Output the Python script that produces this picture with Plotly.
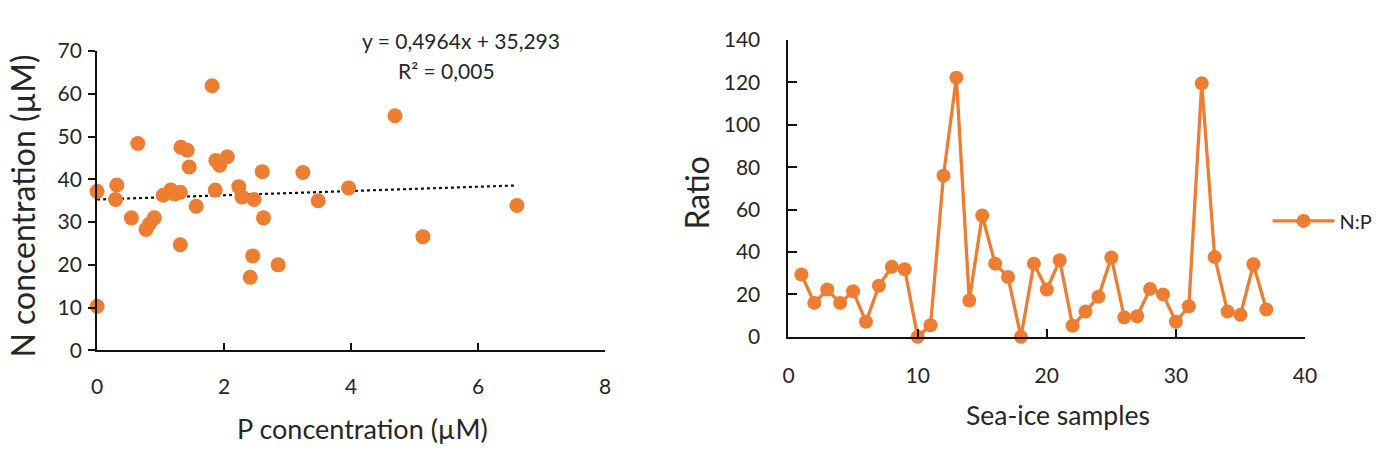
import plotly.graph_objects as go

# ---------- data ----------
p_conc = [0.0, 0.0, 0.31, 0.29, 0.64, 0.54, 0.77, 0.82, 0.90, 1.04, 1.16, 1.22, 1.31,
          1.31, 1.32, 1.42, 1.45, 1.56, 1.81, 1.87, 1.93, 2.05, 1.86, 2.23, 2.28,
          2.47, 2.60, 2.62, 2.45, 2.41, 2.85, 3.24, 3.48, 3.96, 4.69, 5.13, 6.61]
n_conc = [37.2, 10.3, 38.7, 35.3, 48.4, 31.0, 28.3, 29.5, 31.0, 36.3, 37.5, 36.6, 37.0,
          24.7, 47.5, 46.8, 42.9, 33.7, 61.9, 44.4, 43.3, 45.3, 37.5, 38.3, 35.9,
          35.3, 41.8, 31.0, 22.1, 17.1, 20.0, 41.6, 35.0, 38.0, 54.9, 26.6, 33.9]
slope = 0.4964
intercept = 35.293
eq_text = "y = 0,4964x + 35,293"
r2_text = "R² = 0,005"

samples = list(range(1, 38))
np_ratio = [29.4, 16.0, 22.3, 16.0, 21.5, 7.1, 24.1, 33.0, 31.9, 0.0, 5.5, 76.0, 122.2,
            17.1, 57.2, 34.5, 28.2, 0.0, 34.5, 22.3, 36.1, 5.2, 11.9, 18.9, 37.4,
            9.2, 9.7, 22.6, 20.0, 7.1, 14.4, 119.5, 37.6, 11.9, 10.4, 34.2, 12.9]

left_xticks = [0, 2, 4, 6, 8]
left_yticks = [0, 10, 20, 30, 40, 50, 60, 70]
right_xticks = [0, 10, 20, 30, 40]
right_yticks = [0, 20, 40, 60, 80, 100, 120, 140]

# ---------- style ----------
W, H = 1398, 453
ORANGE = "#ED7D31"
TXT = "#262626"
FONT = "Lato"
TICK_SIZE = 21
TITLE_H = 27
TITLE_V = 32

trend_x = [min(p_conc), max(p_conc)]
trend_y = [slope * v + intercept for v in trend_x]

def px_x(v):
    return v / W

def px_y(v):
    return 1 - v / H

fig = go.Figure()
fig.add_trace(go.Scatter(x=trend_x, y=trend_y, mode="lines",
                         line=dict(color="#111111", width=2.2, dash="dot"),
                         showlegend=False, xaxis="x", yaxis="y", hoverinfo="skip"))
fig.add_trace(go.Scatter(x=p_conc, y=n_conc, mode="markers",
                         marker=dict(color=ORANGE, size=15, line=dict(width=0)),
                         showlegend=False, cliponaxis=False, xaxis="x", yaxis="y"))
fig.add_trace(go.Scatter(x=samples, y=np_ratio, mode="lines+markers", name="N:P",
                         line=dict(color=ORANGE, width=3.3),
                         marker=dict(color=ORANGE, size=14, line=dict(width=0)),
                         cliponaxis=False, xaxis="x2", yaxis="y2"))

axis_common = dict(showline=True, linecolor="#111111", linewidth=2, showgrid=False,
                   zeroline=False, tickcolor="#111111", tickwidth=2,
                   tickfont=dict(family=FONT, size=TICK_SIZE, color=TXT))

left_dom_x = [px_x(92.3), px_x(607)]
left_dom_y = [px_y(356), px_y(39.3)]

fig.update_layout(
    width=W, height=H,
    margin=dict(l=0, r=0, t=0, b=0),
    paper_bgcolor="white", plot_bgcolor="white",
    font=dict(family=FONT, color=TXT),
    xaxis=dict(domain=left_dom_x, range=[0, 8], tickvals=left_xticks,
               ticks="inside", ticklen=7, ticklabelstandoff=16, anchor="y", **axis_common),
    yaxis=dict(domain=left_dom_y, range=[0, 70], tickvals=left_yticks,
               ticks="outside", ticklen=7, ticklabelstandoff=2, anchor="x", **axis_common),
    yaxis3=dict(domain=left_dom_y, range=[0, 70], tickvals=left_yticks, overlaying="y",
                anchor="x", side="left", ticks="inside", ticklen=4, tickwidth=2,
                tickcolor="#111111", showticklabels=False, showline=False,
                showgrid=False, zeroline=False),
    xaxis2=dict(domain=[px_x(792.7), px_x(1316)], range=[0, 40], tickvals=right_xticks,
                ticks="inside", ticklen=8, ticklabelstandoff=19, anchor="y2", **axis_common),
    yaxis2=dict(domain=[px_y(341.7), px_y(27.4)], range=[0, 140], tickvals=right_yticks,
                ticks="inside", ticklen=9, ticklabelstandoff=22, anchor="x2", **axis_common),
    legend=dict(x=px_x(1278), y=px_y(219), xanchor="left", yanchor="middle",
                font=dict(family=FONT, size=20, color=TXT), itemwidth=62,
                bgcolor="rgba(0,0,0,0)", borderwidth=0),
    showlegend=True,
)

annos = [
    dict(text="N concentration (µM)", x=px_x(17), y=px_y(203), textangle=-90,
         font=dict(size=TITLE_V)),
    dict(text="P concentration (µM)", x=px_x(361), y=px_y(439), font=dict(size=TITLE_H)),
    dict(text="Ratio", x=px_x(700), y=px_y(189), textangle=-90, font=dict(size=TITLE_V)),
    dict(text="Sea-ice samples", x=px_x(1066), y=px_y(424), font=dict(size=26.5)),
    dict(text=eq_text, x=px_x(461), y=px_y(28), font=dict(size=21)),
    dict(text=r2_text, x=px_x(446), y=px_y(60), font=dict(size=21)),
]
for a in annos:
    a.update(xref="paper", yref="paper", showarrow=False, xanchor="center", yanchor="middle")
    a["font"].update(family=FONT, color=TXT)
    fig.add_annotation(**a)

fig.write_html("out.html")
